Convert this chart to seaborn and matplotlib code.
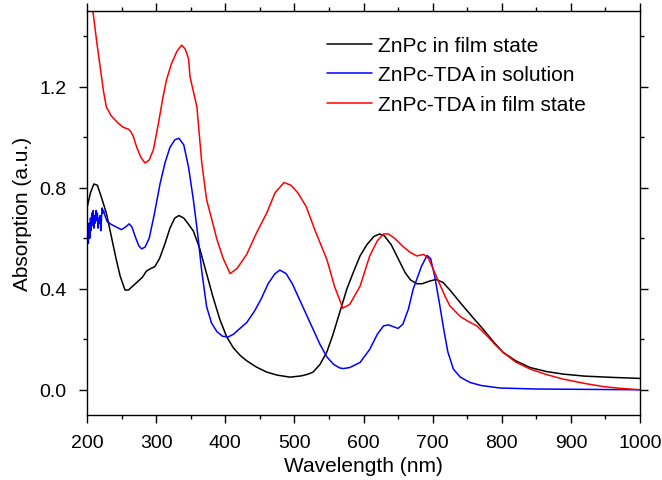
import pandas as pd
import numpy as np
import matplotlib
matplotlib.use('Agg')
import matplotlib.pyplot as plt
from matplotlib.ticker import MultipleLocator, FormatStrFormatter
import seaborn as sns

# ZnPc in film state
wl_black = [200, 205, 210, 215, 220, 228, 235, 242, 248, 255, 260, 266, 272, 280, 286, 292, 298,
            305, 313, 320, 327, 333, 340, 347, 354, 363, 372, 382, 392, 402, 412, 422, 431, 445,
            460, 475, 494, 510, 520, 527, 537, 547, 556, 566, 576, 586, 595, 605, 615, 623, 630,
            640, 650, 660, 668, 677, 685, 695, 705, 715, 725, 740, 757, 773, 788, 802, 820, 841,
            865, 889, 920, 960, 1000]
abs_black = [0.72, 0.78, 0.815, 0.81, 0.77, 0.70, 0.61, 0.52, 0.45, 0.395, 0.395, 0.41, 0.425,
             0.445, 0.47, 0.48, 0.487, 0.52, 0.58, 0.64, 0.68, 0.69, 0.68, 0.655, 0.628, 0.56,
             0.47, 0.37, 0.28, 0.21, 0.165, 0.135, 0.115, 0.09, 0.07, 0.058, 0.05, 0.055, 0.062,
             0.07, 0.10, 0.15, 0.22, 0.31, 0.40, 0.47, 0.53, 0.575, 0.607, 0.617, 0.61, 0.575,
             0.52, 0.465, 0.435, 0.42, 0.42, 0.43, 0.437, 0.425, 0.395, 0.345, 0.29, 0.24, 0.19,
             0.148, 0.115, 0.088, 0.072, 0.062, 0.054, 0.049, 0.045]

# ZnPc-TDA in solution
wl_blue = [200, 201, 202, 203, 204, 205, 206, 207, 208, 209, 210, 211, 212, 213, 214, 215, 216,
           217, 218, 219, 220, 221, 222, 223, 224, 226, 229, 235, 242, 250, 256, 261, 265, 270,
           275, 279, 284, 290, 297, 306, 313, 320, 327, 333, 340, 347, 354, 360, 366, 373, 380,
           388, 396, 404, 412, 420, 431, 442, 452, 462, 472, 479, 488, 497, 507, 517, 527, 537,
           547, 557, 566, 571, 580, 595, 609, 620, 629, 636, 643, 650, 657, 665, 672, 677, 684,
           692, 697, 703, 710, 716, 722, 730, 740, 754, 770, 797, 850, 1000]
abs_blue = [0.57, 0.62, 0.58, 0.66, 0.60, 0.68, 0.63, 0.70, 0.65, 0.71, 0.64, 0.69, 0.66, 0.71,
            0.67, 0.70, 0.64, 0.68, 0.66, 0.69, 0.63, 0.68, 0.72, 0.70, 0.71, 0.69, 0.667, 0.655,
            0.645, 0.634, 0.645, 0.657, 0.645, 0.605, 0.57, 0.558, 0.565, 0.60, 0.69, 0.82, 0.90,
            0.96, 0.99, 0.996, 0.97, 0.88, 0.75, 0.62, 0.47, 0.33, 0.265, 0.23, 0.212, 0.209,
            0.22, 0.24, 0.266, 0.31, 0.36, 0.42, 0.46, 0.474, 0.46, 0.42, 0.36, 0.30, 0.24, 0.18,
            0.13, 0.10, 0.086, 0.084, 0.088, 0.108, 0.16, 0.22, 0.253, 0.257, 0.25, 0.243, 0.26,
            0.32, 0.40, 0.437, 0.49, 0.532, 0.52, 0.45, 0.34, 0.24, 0.15, 0.082, 0.05, 0.029,
            0.017, 0.007, 0.003, 0.0]

# ZnPc-TDA in film state
wl_red = [200, 205, 209, 214, 219, 224, 228, 235, 245, 252, 260, 264, 267, 272, 278, 284, 290,
          296, 303, 310, 315, 322, 330, 337, 342, 347, 349, 354, 359, 366, 373, 380, 388, 397,
          407, 417, 431, 445, 460, 472, 485, 495, 505, 517, 530, 547, 558, 570, 580, 595, 609,
          620, 629, 636, 645, 657, 667, 677, 687, 694, 701, 710, 718, 725, 740, 752, 764, 780,
          790, 802, 820, 841, 865, 889, 920, 946, 970, 1000]
abs_red = [1.60, 1.53, 1.49, 1.38, 1.28, 1.18, 1.12, 1.085, 1.056, 1.04, 1.032, 1.02, 1.003,
           0.96, 0.92, 0.898, 0.91, 0.95, 1.05, 1.16, 1.227, 1.29, 1.34, 1.365, 1.35, 1.31, 1.24,
           1.18, 1.12, 0.90, 0.753, 0.68, 0.595, 0.52, 0.46, 0.48, 0.536, 0.62, 0.70, 0.78,
           0.821, 0.81, 0.78, 0.726, 0.63, 0.516, 0.41, 0.323, 0.338, 0.41, 0.53, 0.59, 0.617,
           0.617, 0.60, 0.568, 0.545, 0.53, 0.536, 0.52, 0.477, 0.42, 0.37, 0.332, 0.29, 0.27,
           0.253, 0.21, 0.18, 0.148, 0.11, 0.082, 0.06, 0.042, 0.025, 0.013, 0.006, 0.0]

labels = ['ZnPc in film state', 'ZnPc-TDA in solution', 'ZnPc-TDA in film state']
colors = ['#000000', '#0000ff', '#ff0000']

df = pd.concat([
    pd.DataFrame({'wl': wl_black, 'abs': abs_black, 'sample': labels[0]}),
    pd.DataFrame({'wl': wl_blue, 'abs': abs_blue, 'sample': labels[1]}),
    pd.DataFrame({'wl': wl_red, 'abs': abs_red, 'sample': labels[2]}),
])

sns.set_style('ticks')
plt.rcParams['font.family'] = ['Liberation Sans', 'DejaVu Sans']
plt.rcParams['text.color'] = 'black'
plt.rcParams['axes.labelcolor'] = 'black'
plt.rcParams['xtick.color'] = 'black'
plt.rcParams['ytick.color'] = 'black'

fig = plt.figure(figsize=(6.62, 4.81), dpi=100)
ax = fig.add_axes([0.1314, 0.1351, 0.8354, 0.8399])

sns.lineplot(data=df, x='wl', y='abs', hue='sample', hue_order=labels,
             palette=colors, estimator=None, sort=False, linewidth=1.1, ax=ax)

ax.set_xlim(200, 1000)
ax.set_ylim(-0.1, 1.5)
ax.xaxis.set_major_locator(MultipleLocator(100))
ax.xaxis.set_minor_locator(MultipleLocator(50))
ax.yaxis.set_major_locator(MultipleLocator(0.4))
ax.yaxis.set_minor_locator(MultipleLocator(0.2))
ax.yaxis.set_major_formatter(FormatStrFormatter('%.1f'))
ax.tick_params(which='both', direction='out', top=True, right=True,
               labeltop=False, labelright=False, width=1.0, color='black',
               labelsize=14, labelcolor='black')
ax.tick_params(axis='x', pad=8)
ax.tick_params(axis='y', pad=9)
ax.tick_params(which='major', length=6)
ax.tick_params(which='minor', length=3)
for s in ax.spines.values():
    s.set_linewidth(1.0)
    s.set_color('black')

ax.set_xlabel('Wavelength (nm)', fontsize=15, labelpad=3)
ax.set_ylabel('Absorption (a.u.)', fontsize=15, labelpad=5)

ax.legend(loc='upper left', bbox_to_anchor=(0.434, 0.938), frameon=False, fontsize=15,
          handlelength=2.15, handletextpad=0.3, labelspacing=0.5,
          borderpad=0, borderaxespad=0, title=None)

fig.savefig('out.png', dpi=100)
